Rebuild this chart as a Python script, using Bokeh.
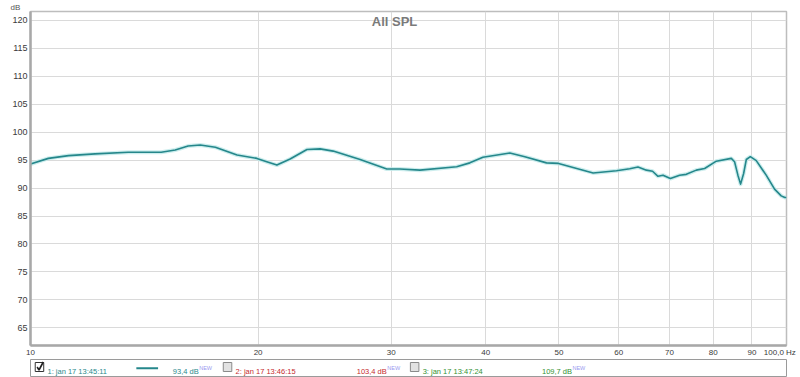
from bokeh.plotting import figure
from bokeh.models import FixedTicker, Label, Range1d
from bokeh.layouts import column
from bokeh.core.properties import value
from bokeh.embed import file_html
from bokeh.resources import INLINE

# ---- data ----
freq = [10.0, 10.56, 11.23, 12.17, 13.47, 14.89, 15.54, 16.16, 16.77, 17.56, 18.76, 19.93,
        20.63, 21.18, 22.05, 23.21, 24.16, 25.14, 27.29, 29.60, 30.8, 32.75, 36.62, 38.12,
        39.67, 43.06, 45.07, 48.15, 49.94, 55.49, 59.57, 62.03, 63.62, 65.27, 66.5, 67.61,
        68.65, 70.21, 72.22, 73.70, 75.98, 77.93, 80.75, 84.52, 85.37, 86.24, 86.95, 87.76,
        88.48, 89.57, 91.2, 94.0, 96.43, 98.40, 99.5, 100.0]
spl = [94.3, 95.3, 95.8, 96.1, 96.4, 96.4, 96.8, 97.5, 97.7, 97.3, 95.9, 95.3,
       94.6, 94.1, 95.2, 96.9, 97.0, 96.6, 95.1, 93.4, 93.4, 93.2, 93.8, 94.5,
       95.5, 96.25, 95.6, 94.5, 94.4, 92.7, 93.1, 93.45, 93.75, 93.2, 93.0, 92.1,
       92.3, 91.7, 92.3, 92.45, 93.2, 93.5, 94.8, 95.3, 94.7, 92.3, 90.7, 92.6,
       95.1, 95.6, 94.9, 92.3, 89.8, 88.6, 88.3, 88.3]

grid_ticks = [10, 20, 30, 40, 50, 60, 70, 80, 90, 100]
# the last label sits just left of the 100 Hz line, as in the reference
label_ticks = [10, 20, 30, 40, 50, 60, 70, 80, 90, 98.0]
x_tick_labels = ["10", "20", "30", "40", "50", "60", "70", "80", "90", "100,0 Hz"]
y_ticks = [65, 70, 75, 80, 85, 90, 95, 100, 105, 110, 115, 120]

names = ["1: jan 17 13:45:11", "2: jan 17 13:46:15", "3: jan 17 13:47:24"]
levels = ["93,4 dB", "103,4 dB", "109,7 dB"]
colors = ["#2a8a8c", "#c62a2e", "#339233"]
checked = [True, False, False]

TEAL = "#25878b"
FONT = "Liberation Sans"

# ---- main plot ----
p = figure(width=800, height=359, x_axis_type="log",
           x_range=Range1d(10, 100), y_range=Range1d(61.86, 121.55),
           output_backend="svg", toolbar_location=None,
           min_border_left=30, min_border_right=14, min_border_top=8, min_border_bottom=11)
p.background_fill_color = "white"
p.border_fill_color = "white"
p.outline_line_color = "#bdbdbd"
p.outline_line_width = 1.5

p.title.text = "dB"
p.title.align = "left"
p.title.offset = -20
p.title.standoff = 0
p.title.text_font = FONT
p.title.text_font_style = "normal"
p.title.text_font_size = "8px"
p.title.text_color = "#555555"

p.xaxis.ticker = FixedTicker(ticks=label_ticks)
p.xaxis.major_label_overrides = {t: l for t, l in zip(label_ticks, x_tick_labels)}
p.xgrid.ticker = FixedTicker(ticks=grid_ticks)
p.yaxis.ticker = FixedTicker(ticks=y_ticks)
p.yaxis.major_label_overrides = {t: str(t) for t in y_ticks}
for ax in (p.xaxis[0], p.yaxis[0]):
    ax.major_tick_out = 0
    ax.major_tick_in = 0
    ax.minor_tick_out = 0
    ax.minor_tick_in = 0
    ax.axis_line_color = "#a8a8a8"
    ax.axis_line_width = 2.5
    ax.major_label_text_color = "#3a3a3a"
    ax.major_label_text_font = FONT
p.xaxis.major_label_text_font_size = "8px"
p.xaxis.major_label_standoff = 2
p.yaxis.major_label_text_font_size = "9px"
p.yaxis.major_label_standoff = 3

p.xgrid.grid_line_color = "#dadada"
p.ygrid.grid_line_color = "#dadada"

p.line(freq, spl, line_color="#bfe8e8", line_width=4, line_alpha=0.8, line_join="round")
p.line(freq, spl, line_color=TEAL, line_width=1.6, line_join="round")

p.add_layout(Label(x=364, y=119.82, x_units="screen", text="All SPL", text_align="center",
                   text_baseline="alphabetic", text_font=FONT, text_font_style="bold",
                   text_font_size="13px", text_color="#7a7a7a"))

# ---- legend strip ----
leg = figure(width=800, height=18, x_range=Range1d(0, 800), y_range=Range1d(18, 0),
             output_backend="svg", toolbar_location=None,
             x_axis_location=None, y_axis_location=None, min_border=0)
leg.grid.visible = False
leg.outline_line_color = "#9a9a9a"
leg.outline_line_width = 1
leg.background_fill_color = "white"
leg.border_fill_color = "white"

box_x = [5, 204, 402]
name_x = [18, 217, 415]
level_x = [178, 377, 573]

leg.quad(left=box_x, right=[b + 9 for b in box_x], top=[3] * 3, bottom=[12] * 3,
         fill_color=["white" if c else "#e2e2e2" for c in checked],
         line_color=["#333333" if c else "#8a8a8a" for c in checked], line_width=1)
# check mark in the first box
leg.line(x=[7, 9, 13.5], y=[7.5, 10.5, 2.5], line_color="#222222", line_width=1.6)
leg.text(x=name_x, y=[11.5] * 3, text=names, text_color=colors, text_align="left",
         text_baseline="alphabetic", text_font=value(FONT), text_font_size="7.5px")
leg.text(x=level_x, y=[11.5] * 3, text=levels, text_color=colors, text_align="right",
         text_baseline="alphabetic", text_font=value(FONT), text_font_size="7.5px")
leg.text(x=[v + 0.5 for v in level_x], y=[8] * 3, text=["NEW"] * 3, text_color="#9a9af0",
         text_align="left", text_baseline="alphabetic", text_font=value(FONT),
         text_font_size="5.5px")
leg.segment(x0=[112], x1=[135], y0=[8.7], y1=[8.7], line_color=TEAL, line_width=2)

layout = column(p, leg, spacing=0)
open("out.html", "w").write(file_html(layout, INLINE))
